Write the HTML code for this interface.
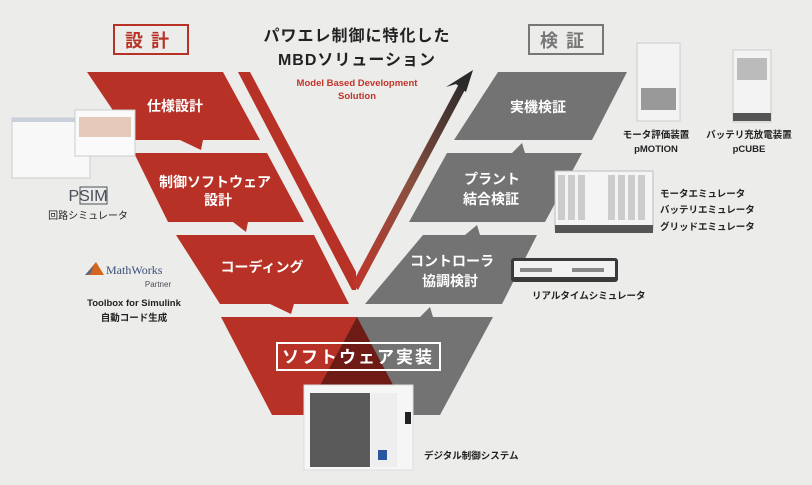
<!DOCTYPE html>
<html><head><meta charset="utf-8"><style>
html,body{margin:0;padding:0}
body{width:812px;height:485px;background:#ececeb;overflow:hidden;position:relative;font-family:"Liberation Sans","Noto Sans CJK JP",sans-serif}
svg{position:absolute;left:0;top:0}
</style></head><body>
<svg width="812" height="485" viewBox="0 0 812 485" font-family="'Liberation Sans','Noto Sans CJK JP',sans-serif">
<defs>
<linearGradient id="g" x1="0" y1="1" x2="1" y2="0">
<stop offset="0" stop-color="#c0342a"/><stop offset="0.5" stop-color="#8a5040"/><stop offset="1" stop-color="#2a2a2a"/>
</linearGradient>
</defs>
<rect x="114" y="25" width="74" height="29" fill="none" stroke="#b83127" stroke-width="2"/>
<text x="151" y="47" text-anchor="middle" font-size="18" font-weight="bold" fill="#b83127" letter-spacing="8">設計</text>
<rect x="529" y="25" width="74" height="29" fill="none" stroke="#777" stroke-width="2"/>
<text x="566" y="47" text-anchor="middle" font-size="18" font-weight="bold" fill="#777" letter-spacing="8">検証</text>
<text x="357" y="41" text-anchor="middle" font-size="16" font-weight="bold" fill="#222" letter-spacing="1">パワエレ制御に特化した</text>
<text x="357" y="65" text-anchor="middle" font-size="16" font-weight="bold" fill="#222" letter-spacing="1">MBDソリューション</text>
<text x="357" y="86" text-anchor="middle" font-size="9.5" font-weight="bold" fill="#c0342a">Model Based Development</text>
<text x="357" y="99" text-anchor="middle" font-size="9.5" font-weight="bold" fill="#c0342a">Solution</text>
<polygon points="238,72 250,72 356,272 356,290 352,290" fill="#b83127"/>
<polygon points="352,284 460,82 467,86 358,290" fill="url(#g)"/>
<polygon points="473,70 446,87 456,84 466,92" fill="#2a2a2a"/>
<g fill="#b83127">
<polygon points="87,72 223,72 260,140 203,140 201,150 180,140 133,140"/>
<polygon points="134,153 267,153 304,222 248,222 246,232 233,222 168,222"/>
<polygon points="176,235 314,235 349,304 294,304 291,314 270,304 220,304"/>
<polygon points="221,317 357,317 409,415 272,415"/>
</g>
<g fill="#737373">
<polygon points="498,72 627,72 592,140 454,140"/>
<polygon points="447,153 512,153 522,143 525,153 582,153 545,222 409,222"/>
<polygon points="423,235 465,235 477,225 480,235 537,235 502,304 365,304"/>
<polygon points="357,317 420,317 430,307 433,317 493,317 440,415 304,415"/>
</g>
<polygon points="357,317 409,415 304,415" fill="#6e1b15"/>
<g fill="#fff" font-weight="bold" font-size="14" text-anchor="middle">
<text x="175" y="111">仕様設計</text>
<text x="215" y="187">制御ソフトウェア</text>
<text x="218" y="205">設計</text>
<text x="262" y="272">コーディング</text>
<text x="538" y="112">実機検証</text>
<text x="492" y="184">プラント</text>
<text x="491" y="204">結合検証</text>
<text x="452" y="266">コントローラ</text>
<text x="450" y="286">協調検討</text>
</g>
<rect x="277" y="343" width="163" height="27" fill="none" stroke="#fff" stroke-width="2"/>
<text x="358" y="363" text-anchor="middle" font-size="17" font-weight="bold" fill="#fff" letter-spacing="2">ソフトウェア実装</text>
<rect x="12" y="118" width="78" height="60" fill="#f8f8f8" stroke="#ccc"/>
<rect x="12" y="118" width="78" height="4" fill="#c8d0dc"/>
<rect x="75" y="110" width="60" height="46" fill="#fafafa" stroke="#ccc"/>
<rect x="79" y="117" width="52" height="20" fill="#e6c9bb"/>
<text x="88" y="201" text-anchor="middle" font-size="16" fill="#4a4f5a">PSIM</text>
<rect x="80" y="187" width="27" height="17" fill="none" stroke="#4a4f5a" stroke-width="1"/>
<text x="88" y="219" text-anchor="middle" font-size="10" fill="#222">回路シミュレータ</text>
<polygon points="85,275 96,262 104,275" fill="#d4661e"/>
<polygon points="85,275 94,266 90,274" fill="#3b6b9a"/>
<text x="106" y="274" font-size="12" font-family="'Liberation Serif',serif" fill="#3b4f7a">MathWorks</text>
<text x="158" y="287" text-anchor="middle" font-size="8" fill="#4a4f5a">Partner</text>
<text x="134" y="306" text-anchor="middle" font-size="9.5" font-weight="bold" fill="#222">Toolbox for Simulink</text>
<text x="134" y="321" text-anchor="middle" font-size="9.5" font-weight="bold" fill="#222">自動コード生成</text>
<rect x="637" y="43" width="43" height="78" fill="#f3f3f3" stroke="#ccc"/>
<rect x="641" y="88" width="35" height="22" fill="#999"/>
<rect x="733" y="50" width="38" height="72" fill="#f3f3f3" stroke="#ccc"/>
<rect x="737" y="58" width="30" height="22" fill="#bbb"/>
<rect x="733" y="113" width="38" height="8" fill="#555"/>
<text x="656" y="138" text-anchor="middle" font-size="9.5" font-weight="bold" fill="#222">モータ評価装置</text>
<text x="656" y="152" text-anchor="middle" font-size="9.5" font-weight="bold" fill="#222">pMOTION</text>
<text x="749" y="138" text-anchor="middle" font-size="9.5" font-weight="bold" fill="#222">バッテリ充放電装置</text>
<text x="749" y="152" text-anchor="middle" font-size="9.5" font-weight="bold" fill="#222">pCUBE</text>
<rect x="555" y="171" width="98" height="58" fill="#f4f4f4" stroke="#bbb"/>
<g fill="#ccc"><rect x="558" y="175" width="7" height="45"/><rect x="568" y="175" width="7" height="45"/><rect x="578" y="175" width="7" height="45"/><rect x="608" y="175" width="7" height="45"/><rect x="618" y="175" width="7" height="45"/><rect x="628" y="175" width="7" height="45"/><rect x="638" y="175" width="7" height="45"/></g>
<rect x="555" y="225" width="98" height="8" fill="#555"/>
<g font-size="9.5" font-weight="bold" fill="#222">
<text x="660" y="197">モータエミュレータ</text>
<text x="660" y="213">バッテリエミュレータ</text>
<text x="660" y="230">グリッドエミュレータ</text>
<text x="532" y="299">リアルタイムシミュレータ</text>
<text x="424" y="459">デジタル制御システム</text>
</g>
<rect x="511" y="258" width="107" height="24" rx="3" fill="#3a3a3a"/>
<rect x="514" y="261" width="101" height="16" fill="#f2f2f2"/>
<rect x="520" y="268" width="32" height="4" fill="#888"/><rect x="572" y="268" width="32" height="4" fill="#888"/>
<rect x="304" y="385" width="109" height="85" fill="#f6f6f6" stroke="#ddd"/>
<rect x="310" y="393" width="60" height="74" fill="#5a5a5a"/>
<rect x="371" y="393" width="26" height="74" fill="#eee"/>
<rect x="378" y="450" width="9" height="10" fill="#2a56a0"/>
<rect x="405" y="412" width="6" height="12" fill="#222"/>
</svg>
</body></html>
